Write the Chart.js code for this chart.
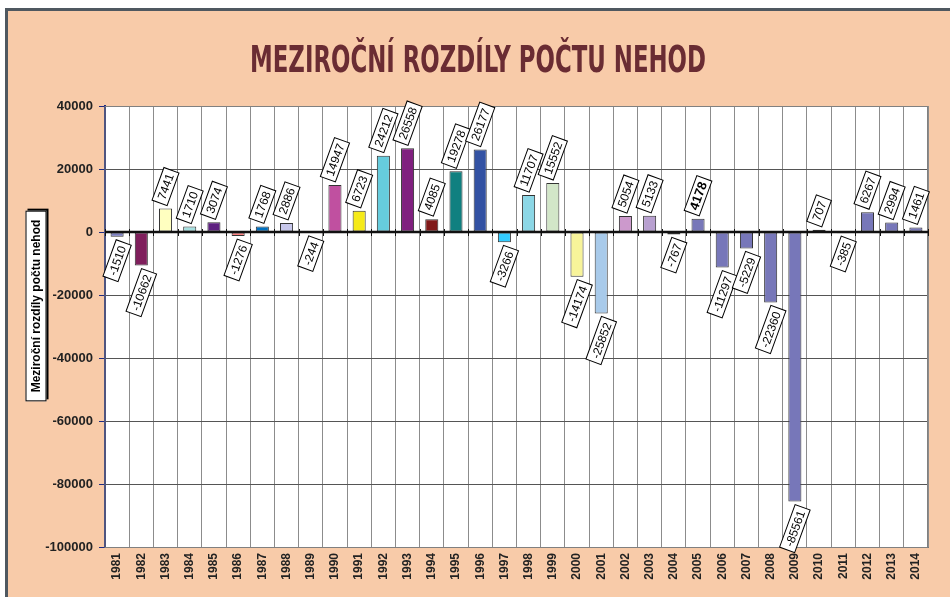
<!DOCTYPE html>
<html>
<head>
<meta charset="utf-8">
<script src="https://cdn.jsdelivr.net/npm/chart.js@4"></script>
<style>
  body { margin: 0; background: #fff; }
  canvas { display: block; }
</style>
</head>
<body>
<canvas id="graf" width="950" height="597"></canvas>
<script>
// Data: meziroční rozdíly počtu nehod
const roky = ['1981','1982','1983','1984','1985','1986','1987','1988','1989','1990',
  '1991','1992','1993','1994','1995','1996','1997','1998','1999','2000',
  '2001','2002','2003','2004','2005','2006','2007','2008','2009','2010',
  '2011','2012','2013','2014'];
const rozdily = [-1510, -10662, 7441, 1710, 3074, -1276, 1768, 2886, -244, 14947,
  6723, 24212, 26558, 4085, 19278, 26177, -3266, 11707, 15552, -14174,
  -25852, 5054, 5133, -767, 4178, -11297, -5229, -22360, -85561, 707,
  -385, 6267, 2994, 1461];
const osaY = [-100000, -80000, -60000, -40000, -20000, 0, 20000, 40000];

const nadpis = 'MEZIROČNÍ ROZDÍLY POČTU NEHOD';
const popisOsy = 'Meziroční rozdíly počtu nehod';

// barvy sloupců (jako v Excelu, každý rok jinak)
const barvy = ['#7B7EC0','#7F1F5C','#FFFFC0','#A6E0E0','#5E2180','#FF8080','#0070C0','#C8C8EC',
  '#9999CC','#C050A0','#F5EA18','#66CCDD','#80207F','#801818','#108080','#3352A3',
  '#33CCFF','#8CD7E6','#D2E6C8','#F8F49A','#A8CAEA','#CC99CC','#B8A0D0','#CFB8D8',
  '#7777B9','#7777B9','#7777B9','#7777B9','#7777B9','#7777B9','#7777B9','#7777B9',
  '#7777B9','#7777B9'];

// pozadí, rámeček a nadpis
const pozadi = {
  id: 'pozadi',
  beforeDraw(chart) {
    const ctx = chart.ctx;
    const a = chart.chartArea;
    ctx.save();
    ctx.fillStyle = '#ffffff';
    ctx.fillRect(0, 0, chart.width, chart.height);
    ctx.fillStyle = '#F8CBA9';
    ctx.fillRect(5, 8, chart.width - 5, chart.height - 8);
    ctx.strokeStyle = '#4F5860';
    ctx.lineWidth = 3;
    ctx.beginPath();
    ctx.moveTo(6.5, chart.height);
    ctx.lineTo(6.5, 9.5);
    ctx.lineTo(chart.width, 9.5);
    ctx.stroke();
    ctx.fillStyle = '#ffffff';
    ctx.fillRect(a.left, a.top, a.right - a.left, a.bottom - a.top);

    ctx.fillStyle = '#6A2C33';
    ctx.font = "bold 38px 'Liberation Sans Narrow', 'DejaVu Sans Condensed', Arial";
    ctx.textAlign = 'center';
    ctx.textBaseline = 'alphabetic';
    ctx.fillText(nadpis, 478, 72, 456);

    // popisek osy Y v rámečku se stínem
    ctx.font = "bold 12px 'Liberation Sans', Arial";
    const w = ctx.measureText(popisOsy).width + 18;
    const h = 21;
    ctx.translate(36, 306);
    ctx.rotate(-Math.PI / 2);
    ctx.fillStyle = '#000';
    ctx.fillRect(-w / 2 + 2, -h / 2 + 2, w, h);
    ctx.fillStyle = '#fff';
    ctx.fillRect(-w / 2, -h / 2, w, h);
    ctx.strokeStyle = '#000';
    ctx.lineWidth = 1;
    ctx.strokeRect(-w / 2 + 0.5, -h / 2 + 0.5, w - 1, h - 1);
    ctx.fillStyle = '#000';
    ctx.textBaseline = 'middle';
    ctx.fillText(popisOsy, 0, 1);
    ctx.restore();
  }
};

// nulová osa a popisky hodnot
const popisky = {
  id: 'popisky',
  afterDatasetsDraw(chart) {
    const ctx = chart.ctx;
    const a = chart.chartArea;
    const y0 = chart.scales.y.getPixelForValue(0);
    const n = roky.length;
    ctx.save();
    ctx.strokeStyle = '#808080';
    ctx.lineWidth = 1;
    ctx.strokeRect(a.left, a.top + 0.5, a.right - a.left - 0.5, a.bottom - a.top);
    ctx.strokeStyle = '#111';
    ctx.lineWidth = 2.5;
    ctx.beginPath();
    ctx.moveTo(a.left, y0);
    ctx.lineTo(a.right, y0);
    ctx.stroke();
    ctx.lineWidth = 1;
    for (let i = 0; i <= n; i++) {
      const x = Math.round(a.left + i * (a.right - a.left) / n) + 0.5;
      ctx.beginPath();
      ctx.moveTo(x, y0 - 3);
      ctx.lineTo(x, y0 + 4);
      ctx.stroke();
    }

    const uhel = -70 * Math.PI / 180;
    const meta = chart.getDatasetMeta(0);
    meta.data.forEach((bar, i) => {
      const v = rozdily[i];
      const tucne = roky[i] === '2005';
      ctx.font = tucne ? "bold 13px 'Liberation Sans', Arial" : "12px 'Liberation Sans', Arial";
      const t = String(v);
      const bw = ctx.measureText(t).width + 8;
      const bh = 16;
      const vyska = bw * Math.sin(-uhel) + bh * Math.cos(-uhel);
      const cy = v >= 0 ? bar.y - 3 - vyska / 2 : bar.y + 3 + vyska / 2;
      ctx.save();
      ctx.translate(bar.x, cy);
      ctx.rotate(uhel);
      ctx.fillStyle = '#fff';
      ctx.fillRect(-bw / 2, -bh / 2, bw, bh);
      ctx.strokeStyle = '#000';
      ctx.lineWidth = 1;
      ctx.strokeRect(-bw / 2, -bh / 2, bw, bh);
      ctx.fillStyle = '#000';
      ctx.textAlign = 'center';
      ctx.textBaseline = 'middle';
      ctx.fillText(t, 0, 1);
      ctx.restore();
    });
    ctx.restore();
  }
};

new Chart(document.getElementById('graf'), {
  type: 'bar',
  data: {
    labels: roky,
    datasets: [{
      label: popisOsy,
      data: rozdily,
      backgroundColor: barvy,
      borderColor: '#333',
      borderWidth: 1,
      borderSkipped: false,
      categoryPercentage: 1,
      barPercentage: 0.54
    }]
  },
  options: {
    responsive: false,
    animation: false,
    layout: { padding: { top: 106, right: 22, left: 0, bottom: 0 } },
    plugins: {
      legend: { display: false },
      tooltip: { enabled: false }
    },
    scales: {
      x: {
        afterFit: s => { s.height = 50; },
        grid: { color: '#8c8c8c', lineWidth: 1, offset: true, drawTicks: false },
        border: { color: '#777', width: 1 },
        ticks: {
          color: '#222',
          font: { family: "'Liberation Sans', Arial", size: 12, weight: 'bold' },
          minRotation: 90,
          maxRotation: 90,
          autoSkip: false,
          padding: 6
        }
      },
      y: {
        min: osaY[0],
        max: osaY[osaY.length - 1],
        afterFit: s => { s.width = 105; },
        afterBuildTicks: s => { s.ticks = osaY.map(v => ({ value: v })); },
        grid: { color: '#555', lineWidth: 1, tickLength: 6, tickColor: '#1F2A80' },
        border: { color: '#1F2A80', width: 2 },
        ticks: {
          color: '#222',
          font: { family: "'Liberation Sans', Arial", size: 13, weight: 'bold' },
          padding: 6,
          callback: v => String(v)
        }
      }
    }
  },
  plugins: [pozadi, popisky]
});
</script>
</body>
</html>
